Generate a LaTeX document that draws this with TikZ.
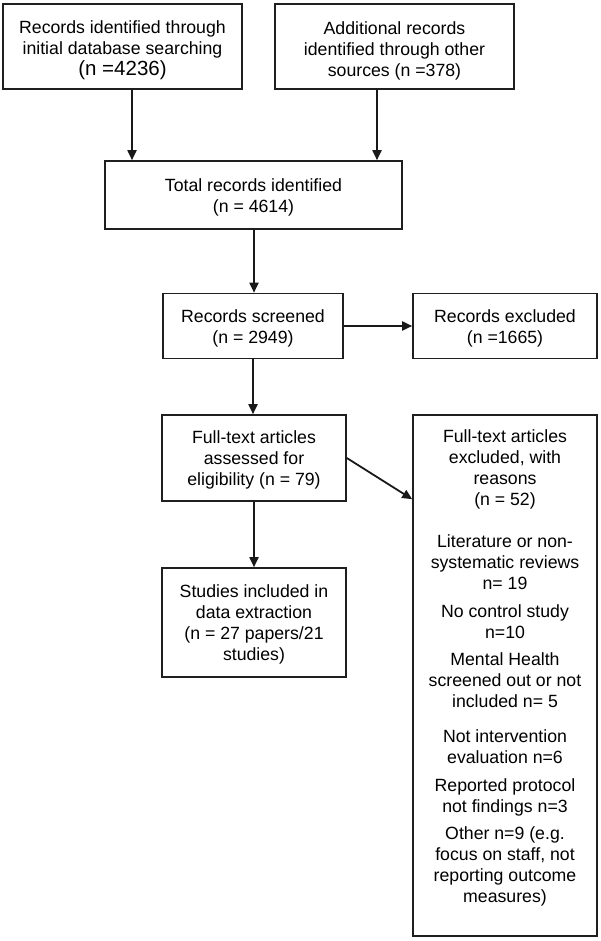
\documentclass[tikz,border=0pt]{standalone}
\usepackage{fontspec}
\setmainfont{Liberation Sans}
\usetikzlibrary{arrows.meta}
\newcommand{\fsz}{\fontsize{17.7}{21}\selectfont}
\newcommand{\fbig}{\fontsize{20.5}{22}\selectfont}
\newcommand{\tsh}[1]{\rule{0pt}{#1pt}}
\tikzset{
  box/.style={draw=black!88, line width=1.6pt, align=center, inner sep=0pt, font=\fsz, text=black},
  txt/.style={align=center, inner sep=0pt, font=\fsz, text=black},
  arr/.style={draw=black!90, line width=1.8pt, -{Triangle[length=10pt,width=9pt]}}
}
\begin{document}
\begin{tikzpicture}[x=1pt,y=-1pt]
\useasboundingbox (0,0) rectangle (600,941);
\node[box, minimum width=239pt, minimum height=85pt] (b1) at (122.5,46.5)
  {\tsh{21}Records identified through\\initial database searching\\{\fbig (n =4236)}};
\node[box, minimum width=239pt, minimum height=85pt] (b2) at (394.5,46.5)
  {\tsh{21}Additional records\\identified through other\\sources (n =378)};
\node[box, minimum width=297pt, minimum height=68pt] (total) at (253.5,195)
  {\tsh{17}Total records identified\\(n = 4614)};
\node[box, minimum width=180pt, minimum height=65pt] (screened) at (253,326)
  {\tsh{17}Records screened\\(n = 2949)};
\node[box, minimum width=184pt, minimum height=65pt] (excl) at (505,326)
  {\tsh{17}Records excluded\\(n =1665)};
\node[box, minimum width=184pt, minimum height=86pt] (full) at (254,458)
  {\tsh{17}Full-text articles\\assessed for\\eligibility (n = 79)};
\node[box, minimum width=184pt, minimum height=521pt] (exclr) at (505,675.5) {};
\node[txt, anchor=north] (exclrtext) at ([yshift=-15.5pt]exclr.north)
  {Full-text articles\\excluded, with\\reasons\\(n = 52)\\[21pt]
   Literature or non-\\systematic reviews\\n= 19\\[6.5pt]
   No control study\\n=10\\[6.5pt]
   Mental Health\\screened out or not\\included n= 5\\[14pt]
   Not intervention\\evaluation n=6\\[6.5pt]
   Reported protocol\\not findings n=3\\[6.5pt]
   Other n=9 (e.g.\\focus on staff, not\\reporting outcome\\measures)};
\node[box, minimum width=184pt, minimum height=109pt] (studies) at (254,622.5)
  {\tsh{17}Studies included in\\data extraction\\(n = 27 papers/21\\studies)};
\draw[arr] ([xshift=9.5pt]b1.south) -- ([xshift=9.5pt]b1.south |- total.north);
\draw[arr] ([xshift=-17.5pt]b2.south) -- ([xshift=-17.5pt]b2.south |- total.north);
\draw[arr] ([xshift=0.5pt]total.south) -- ([xshift=0.5pt]total.south |- screened.north);
\draw[arr] (screened.east) -- (excl.west);
\draw[arr] (screened.south) -- (screened.south |- full.north);
\draw[arr] (full.east) -- ([yshift=-85pt]exclr.north west);
\draw[arr] (full.south) -- (studies.north);
\end{tikzpicture}
\end{document}
